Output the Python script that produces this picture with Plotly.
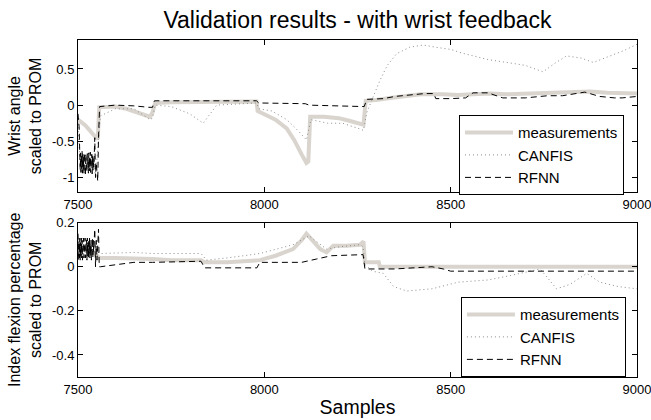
import plotly.graph_objects as go

# ---------------- data ----------------
# Top panel: wrist angle scaled to PROM
top_meas_x = [7500, 7520, 7540, 7550, 7553, 7557, 7600, 7630, 7660, 7693, 7700, 7707, 7750, 7800, 7850,
              7900, 7950, 7979, 7982, 8000, 8030, 8060, 8080, 8100, 8113, 8118, 8123, 8160, 8200, 8230,
              8257, 8266, 8272, 8300, 8337, 8380, 8420, 8480, 8520, 8560, 8605, 8650, 8700, 8750, 8800,
              8874, 8920, 8960, 9000]
top_meas_y = [-0.20, -0.28, -0.40, -0.47, -0.47, -0.03, -0.02, -0.05, -0.10, -0.16, -0.10, 0.03, 0.04, 0.04, 0.05,
              0.05, 0.05, 0.05, -0.08, -0.12, -0.20, -0.32, -0.48, -0.68, -0.80, -0.78, -0.16, -0.16, -0.18, -0.22,
              -0.26, -0.27, 0.06, 0.07, 0.10, 0.13, 0.15, 0.15, 0.14, 0.15, 0.16, 0.15, 0.16, 0.16, 0.17,
              0.19, 0.17, 0.16, 0.16]

top_canfis_x = [7500, 7504, 7506, 7508, 7510, 7512, 7514, 7516, 7518, 7520, 7522, 7524, 7526, 7528, 7530,
                7532, 7534, 7536, 7538, 7540, 7542, 7544, 7546, 7550, 7555, 7560, 7600, 7650, 7693, 7700,
                7707, 7750, 7800, 7836, 7872, 7950, 7979, 7985, 8020, 8060, 8090, 8113, 8125, 8170, 8210,
                8257, 8266, 8275, 8290, 8310, 8330, 8355, 8390, 8426, 8460, 8500, 8530, 8560, 8600, 8650,
                8700, 8748, 8780, 8811, 8850, 8883, 8920, 8963, 9000]
top_canfis_y = [-0.25, -0.60, -0.85, -0.70, -0.92, -0.66, -0.88, -0.72, -0.94, -0.68, -0.90, -0.70, -0.86, -0.66, -0.92,
                -0.72, -0.88, -0.68, -0.93, -0.70, -0.87, -0.75, -0.95, -0.80, -0.50, -0.15, -0.05, -0.05, -0.20, -0.18,
                0.00, -0.02, -0.12, -0.25, 0.00, 0.02, 0.03, -0.05, -0.08, -0.20, -0.35, -0.48, -0.20, -0.25, -0.25,
                -0.33, -0.35, -0.10, 0.10, 0.34, 0.55, 0.71, 0.80, 0.83, 0.80, 0.77, 0.72, 0.68, 0.63, 0.59,
                0.55, 0.46, 0.58, 0.68, 0.65, 0.59, 0.66, 0.75, 0.84]

top_rfnn_x = [7500, 7503, 7505, 7506, 7507, 7508, 7509, 7510, 7511, 7512, 7513, 7514, 7515, 7516, 7517,
              7518, 7519, 7520, 7521, 7522, 7523, 7524, 7525, 7526, 7527, 7528, 7529, 7530, 7531, 7532,
              7533, 7534, 7535, 7536, 7537, 7538, 7539, 7540, 7541, 7542, 7543, 7545, 7547, 7549, 7551,
              7553, 7555, 7558, 7600, 7650, 7690, 7700, 7705, 7800, 7900, 7979, 7985, 8050, 8110, 8120,
              8200, 8268, 8275, 8320, 8350, 8400, 8430, 8455, 8460, 8500, 8540, 8560, 8600, 8640, 8700,
              8760, 8800, 8860, 8900, 8940, 8960, 9000]
top_rfnn_y = [-0.12, -0.30, -0.72, -0.90, -0.66, -0.93, -0.70, -0.88, -0.64, -0.94, -0.68, -0.90, -0.72, -0.95, -0.66,
              -0.86, -0.70, -0.96, -0.68, -0.90, -0.75, -0.92, -0.67, -0.89, -0.70, -0.94, -0.66, -0.91, -0.73, -0.88,
              -0.65, -0.93, -0.71, -0.87, -0.68, -0.95, -0.70, -0.90, -0.74, -0.86, -0.80, -0.45, -1.00, -0.80, -0.95,
              -1.05, -0.45, -0.02, 0.00, -0.01, -0.03, -0.03, 0.06, 0.06, 0.07, 0.06, 0.03, 0.03, 0.02, 0.00,
              -0.01, -0.02, 0.08, 0.09, 0.12, 0.15, 0.16, 0.16, 0.09, 0.09, 0.10, 0.17, 0.17, 0.10, 0.10,
              0.13, 0.13, 0.18, 0.12, 0.10, 0.10, 0.12]

# Bottom panel: index flexion percentage scaled to PROM
bot_meas_x = [7500, 7520, 7545, 7557, 7600, 7700, 7750, 7800, 7830, 7840, 7900, 7988, 8030, 8077, 8100,
              8113, 8130, 8150, 8167, 8185, 8220, 8257, 8266, 8270, 8300, 8307, 8310, 8400, 8600, 8800, 9000]
bot_meas_y = [0.10, 0.08, 0.06, 0.04, 0.04, 0.035, 0.03, 0.03, 0.03, 0.02, 0.02, 0.03, 0.05, 0.08, 0.12,
              0.15, 0.12, 0.08, 0.065, 0.095, 0.095, 0.10, 0.115, 0.02, 0.02, 0.02, 0.00, 0.00, 0.00, 0.00, 0.00]

bot_canfis_x = [7500, 7503, 7505, 7507, 7509, 7511, 7513, 7515, 7517, 7519, 7521, 7523, 7525, 7527, 7529,
                7531, 7533, 7535, 7537, 7539, 7541, 7543, 7545, 7550, 7560, 7650, 7700, 7830, 7845, 7900,
                7988, 8077, 8120, 8167, 8200, 8257, 8265, 8270, 8290, 8319, 8347, 8382, 8450, 8520, 8560,
                8600, 8660, 8740, 8760, 8784, 8820, 8865, 8900, 8950, 9000]
bot_canfis_y = [0.13, 0.05, 0.12, 0.04, 0.11, 0.06, 0.13, 0.04, 0.10, 0.05, 0.12, 0.04, 0.11, 0.06, 0.12,
                0.04, 0.10, 0.05, 0.12, 0.05, 0.11, 0.06, 0.09, 0.07, 0.06, 0.065, 0.06, 0.06, 0.03, 0.04,
                0.06, 0.10, 0.14, 0.08, 0.09, 0.10, 0.09, 0.01, -0.02, -0.03, -0.09, -0.11, -0.10, -0.07, -0.065,
                -0.06, -0.04, -0.01, -0.05, -0.10, -0.08, -0.03, -0.07, -0.09, -0.10]

bot_rfnn_x = [7500, 7502, 7503, 7504, 7505, 7506, 7507, 7508, 7509, 7510, 7511, 7512, 7513, 7514, 7515,
              7516, 7517, 7518, 7519, 7520, 7521, 7522, 7523, 7524, 7525, 7526, 7527, 7528, 7529, 7530,
              7531, 7532, 7533, 7534, 7535, 7536, 7537, 7538, 7539, 7540, 7541, 7542, 7545, 7547, 7549,
              7551, 7555, 7557, 7560, 7650, 7700, 7830, 7840, 7980, 7988, 8100, 8140, 8180, 8265, 8270,
              8350, 8450, 8480, 8500, 8600, 8800, 9000]
bot_rfnn_y = [0.15, 0.03, 0.12, 0.04, 0.13, 0.03, 0.11, 0.05, 0.13, 0.04, 0.12, 0.03, 0.10, 0.05, 0.13,
              0.04, 0.12, 0.06, 0.13, 0.04, 0.11, 0.05, 0.12, 0.03, 0.13, 0.05, 0.11, 0.04, 0.12, 0.06,
              0.13, 0.04, 0.10, 0.05, 0.12, 0.03, 0.11, 0.06, 0.13, 0.04, 0.12, 0.07, 0.17, 0.00, 0.12,
              0.03, 0.17, 0.00, 0.00, 0.02, 0.02, 0.025, -0.005, -0.005, 0.02, 0.02, 0.035, 0.05, 0.055, -0.01,
              -0.01, 0.00, -0.01, -0.02, -0.02, -0.02, -0.02]

series_names = ["measurements", "CANFIS", "RFNN"]
x_ticks = [7500, 8000, 8500, 9000]
top_y_ticks = [-1, -0.5, 0, 0.5]
top_y_ticklabels = ["-1", "-0.5", "0", "0.5"]
bot_y_ticks = [-0.4, -0.2, 0, 0.2]
bot_y_ticklabels = ["-0.4", "-0.2", "0", "0.2"]

# ---------------- styles ----------------
MEAS_COLOR = "#d9d5ce"
CANFIS_COLOR = "#8c8c8c"
RFNN_COLOR = "#000000"
FONT = "Liberation Sans, Arial, sans-serif"

fig = go.Figure()

def add_panel(xs, ys, xa, ya, legend):
    styles = [dict(color=MEAS_COLOR, width=4),
              dict(color=CANFIS_COLOR, width=1, dash="1px,3px"),
              dict(color=RFNN_COLOR, width=1, dash="6px,4px")]
    for name, x, y, st in zip(series_names, xs, ys, styles):
        fig.add_trace(go.Scatter(x=x, y=y, mode="lines", name=name, line=st,
                                 xaxis=xa, yaxis=ya, legend=legend, showlegend=True))

add_panel([top_meas_x, top_canfis_x, top_rfnn_x], [top_meas_y, top_canfis_y, top_rfnn_y], "x", "y", "legend")
add_panel([bot_meas_x, bot_canfis_x, bot_rfnn_x], [bot_meas_y, bot_canfis_y, bot_rfnn_y], "x2", "y2", "legend2")

axis_common = dict(showline=True, linecolor="black", linewidth=1, mirror="ticks",
                   ticks="inside", ticklen=5, tickcolor="black", showgrid=False, zeroline=False,
                   ticklabeloverflow="allow", automargin=False,
                   tickfont=dict(family=FONT, size=13, color="black"))

legend_common = dict(bgcolor="white", bordercolor="black", borderwidth=1,
                     font=dict(family=FONT, size=15, color="black"),
                     xanchor="left", yanchor="top", tracegroupgap=0, itemwidth=48)

fig.update_layout(
    width=651, height=420, autosize=False,
    margin=dict(l=78, r=14, t=40, b=43),
    plot_bgcolor="white", paper_bgcolor="white",
    font=dict(family=FONT, color="black"),
    title=dict(text="Validation results - with wrist feedback", x=0.5, xref="paper", xanchor="center",
               y=1 - 20 / 420, yanchor="middle", yref="container",
               font=dict(family=FONT, size=23, color="black")),
    xaxis=dict(domain=[0, 1], range=[7500, 9000], tickvals=x_ticks, anchor="y", **axis_common),
    yaxis=dict(domain=[0.549, 1], range=[-1.2, 0.9], tickvals=top_y_ticks, ticktext=top_y_ticklabels,
               anchor="x",
               title=dict(text="Wrist angle<br>scaled to PROM", standoff=6,
                          font=dict(family=FONT, size=16, color="black")),
               **axis_common),
    xaxis2=dict(domain=[0, 1], range=[7500, 9000], tickvals=x_ticks, anchor="y2",
                title=dict(text="Samples", standoff=4, font=dict(family=FONT, size=19.5, color="black")),
                **axis_common),
    yaxis2=dict(domain=[0, 0.458], range=[-0.5, 0.2], tickvals=bot_y_ticks, ticktext=bot_y_ticklabels,
                anchor="x2",
                title=dict(text="Index flexion percentage<br>scaled to PROM", standoff=6,
                           font=dict(family=FONT, size=16, color="black")),
                **axis_common),
    legend=dict(x=0.6816, y=0.777, **legend_common),
    legend2=dict(x=0.685, y=0.237, **legend_common),
)

# remove the browser's default page margin and scrollbars so the 651x420 figure fills the window exactly
fig.write_html(
    "out.html",
    config={"displayModeBar": False, "responsive": False},
    post_script=("document.body.style.margin='0px';"
                 "document.body.style.overflow='hidden';"
                 "document.documentElement.style.overflow='hidden';"),
)
